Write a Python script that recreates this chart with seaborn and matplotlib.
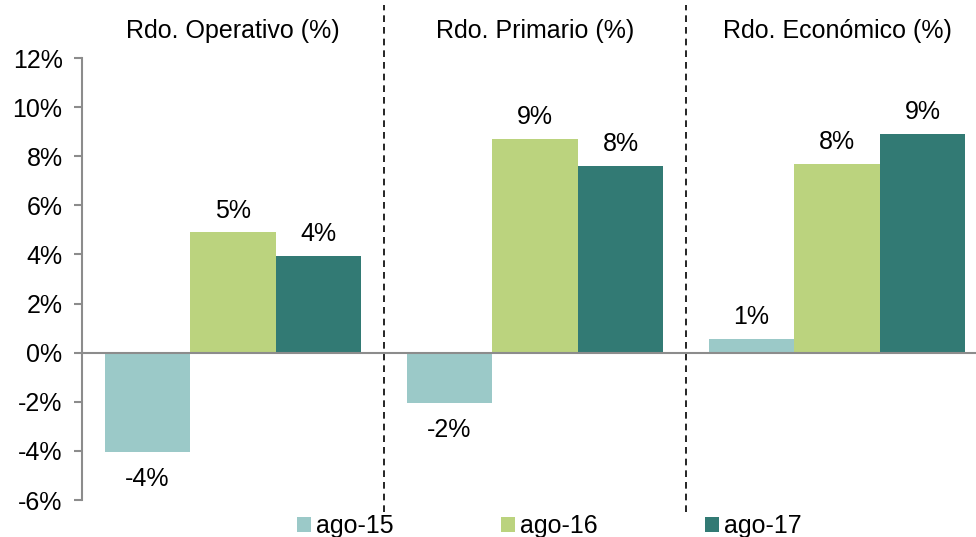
import matplotlib
matplotlib.use("Agg")
import matplotlib.pyplot as plt
import seaborn as sns
import pandas as pd

categories = ["Rdo. Operativo (%)", "Rdo. Primario (%)", "Rdo. Económico (%)"]
periods = ["ago-15", "ago-16", "ago-17"]
ago15 = [-4.05, -2.05, 0.55]
ago16 = [4.9, 8.7, 7.7]
ago17 = [3.95, 7.6, 8.9]
colors = ["#9BC9C8", "#BBD37E", "#327A74"]
yticks = [-6, -4, -2, 0, 2, 4, 6, 8, 10, 12]

rows = []
for p, vals in zip(periods, [ago15, ago16, ago17]):
    for c, v in zip(categories, vals):
        rows.append({"cat": c, "period": p, "val": v})
df = pd.DataFrame(rows)

sns.set_theme(style="white")
plt.rcParams["font.family"] = ["Liberation Sans", "DejaVu Sans"]
plt.rcParams["text.color"] = "black"
FS = 18

fig = plt.figure(figsize=(9.76, 5.37), dpi=100)
ax = fig.add_axes([82/976, 1-500/537, (976-82)/976, 442/537])

sns.barplot(data=df, x="cat", y="val", hue="period", hue_order=periods,
            order=categories, palette=colors, saturation=1, width=0.85,
            ax=ax, errorbar=None, linewidth=0)

ax.set_xlim(-0.5, -0.5 + (976-82)/302)
ax.set_ylim(-6, 12)
ax.set_yticks(yticks)
ax.set_yticklabels([f"{t}%" for t in yticks], fontsize=FS)
ax.set_xticks([])
ax.set_xlabel("")
ax.set_ylabel("")
for s in ["top", "right"]:
    ax.spines[s].set_visible(False)
gray = "#8C8C8C"
ax.spines["left"].set_color(gray)
ax.spines["left"].set_linewidth(1.5)
ax.spines["bottom"].set_position(("data", 0))
ax.spines["bottom"].set_color(gray)
ax.spines["bottom"].set_linewidth(1.5)
ax.tick_params(axis="y", left=True, length=6, width=1.5, color=gray, pad=8,
               labelcolor="black")

for cont, p in zip(ax.containers, periods):
    vals = list(df[df.period == p]["val"])
    pos = [f"{v:.0f}%" if v >= 0 else "" for v in vals]
    neg = [f"{v:.0f}%" if v < 0 else "" for v in vals]
    ax.bar_label(cont, labels=pos, padding=7, fontsize=FS, color="black")
    ax.bar_label(cont, labels=neg, padding=11, fontsize=FS, color="black")

for xb in [0.5, 1.5]:
    ax.axvline(xb, ymin=-0.027, ymax=1.12, color="black", linestyle=(0, (4, 3)),
               linewidth=1.2, clip_on=False)

for i, c in enumerate(categories):
    ax.text(i, 1.06, c, transform=ax.get_xaxis_transform(), ha="center",
            va="center", fontsize=FS, color="black")

sns.move_legend(ax, "center", bbox_to_anchor=(0.523, -0.059), ncol=3,
                frameon=False, title=None, fontsize=FS, handlelength=0.55,
                handleheight=0.55, handletextpad=0.2, columnspacing=4.3,
                borderpad=0)

fig.savefig("out.png", dpi=100)
